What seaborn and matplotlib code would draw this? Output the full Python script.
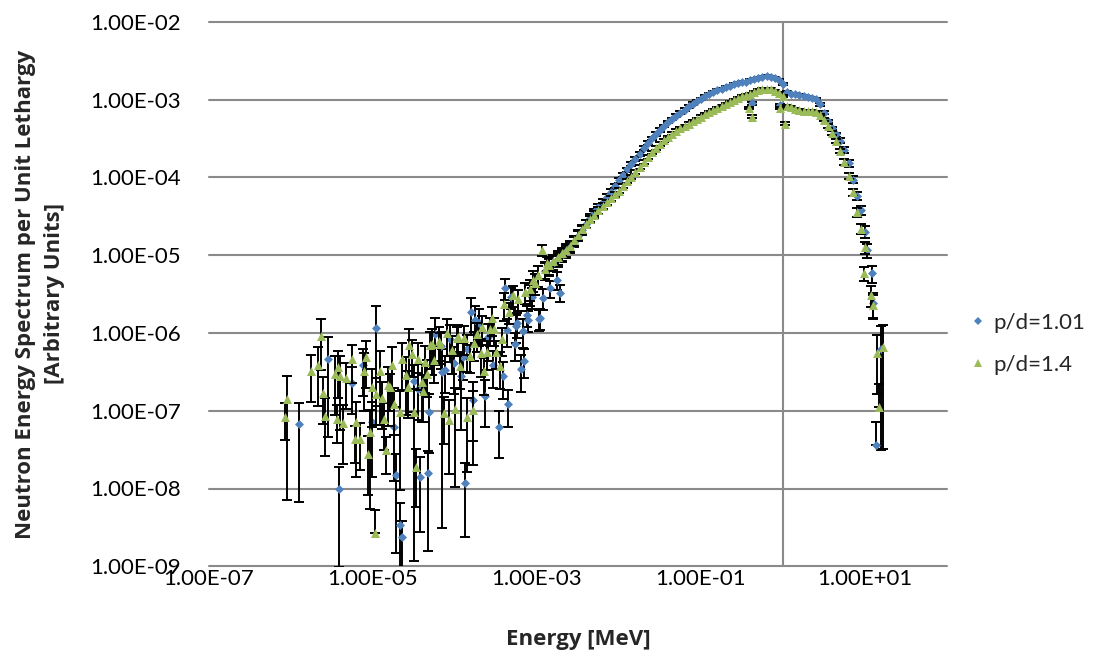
import numpy as np
import pandas as pd
import matplotlib
matplotlib.use("Agg")
import matplotlib.pyplot as plt
import seaborn as sns
from matplotlib.ticker import FuncFormatter, NullLocator
from matplotlib.lines import Line2D

# ---------------------------------------------------------------------------
# Neutron spectrum per unit lethargy for two pitch-to-diameter ratios.
# Values are tally results (arbitrary units) with relative 1-sigma errors.
# ---------------------------------------------------------------------------

series_names = ["p/d=1.01", "p/d=1.4"]

# Low-energy (thermal / epithermal) tallies, p/d = 1.01
energy_low_101 = [1.25e-6, 2.85e-6, 3.8e-6, 5.6e-6, 7.5e-6, 9.7e-6, 1.1e-5, 1.8e-5,
                  1.89e-5, 2.15e-5, 2.26e-5, 3.13e-5, 3.5e-5, 3.7e-5, 4.65e-5, 4.86e-5,
                  5.7e-5, 6.8e-5, 7.0e-5, 7.55e-5, 8.8e-5, 9.6e-5, 1.17e-4, 1.24e-4,
                  1.34e-4, 1.4e-4, 1.57e-4, 1.64e-4, 1.77e-4, 1.94e-4, 2.32e-4, 2.55e-4,
                  2.93e-4, 3.4e-4, 3.9e-4, 4.07e-4, 4.26e-4, 4.47e-4, 4.77e-4, 5.4e-4,
                  5.55e-4, 5.65e-4, 6.3e-4, 6.7e-4, 7.0e-4, 7.6e-4, 7.8e-4, 8.2e-4,
                  8.6e-4, 1.07e-3, 1.09e-3, 1.19e-3, 1.44e-3, 1.74e-3, 1.9e-3]
flux_low_101 = [6.7e-8, 4.6e-7, 9.8e-9, 2.3e-7, 3.9e-7, 7.1e-8, 1.15e-6, 6.2e-8,
                1.48e-8, 3.4e-9, 2.4e-9, 2.4e-7, 1.88e-7, 1.4e-8, 1.58e-8, 9.6e-8,
                9.6e-7, 6.8e-7, 3.1e-7, 3.34e-7, 8.4e-7, 4.06e-7, 2.8e-7, 4.95e-7,
                1.19e-8, 6.3e-7, 1.88e-6, 1.37e-7, 1.47e-6, 1.36e-6, 1.56e-7, 8.8e-7,
                3.87e-7, 6.2e-8, 2.8e-7, 3.74e-6, 1.09e-6, 1.22e-7, 2.87e-6, 7.2e-7,
                1.23e-6, 1.33e-6, 3.44e-7, 1.07e-6, 4.4e-7, 1.7e-6, 1.47e-6, 3.2e-6,
                2.9e-6, 1.5e-6, 1.54e-6, 2.8e-6, 3.74e-6, 4.8e-6, 3.3e-6]
relerr_low_101 = [0.9, 0.9, 0.9, 0.6, 0.6, 0.8, 0.9, 0.8,
                  0.9, 0.9, 0.6, 0.6, 0.6, 0.8, 0.9, 0.7,
                  0.6, 0.5, 0.99, 0.5, 0.5, 0.6, 0.8, 0.5,
                  0.8, 0.5, 0.5, 0.7, 0.5, 0.5, 0.6, 0.5,
                  0.5, 0.6, 0.5, 0.3, 0.4, 0.5, 0.3, 0.4,
                  0.4, 0.35, 0.5, 0.4, 0.4, 0.3, 0.3, 0.3,
                  0.3, 0.3, 0.3, 0.3, 0.25, 0.25, 0.25]

# Low-energy (thermal / epithermal) tallies, p/d = 1.4
energy_low_14 = [8.45e-7, 8.85e-7, 1.75e-6, 2.15e-6, 2.32e-6, 2.43e-6, 2.6e-6, 3.44e-6,
                 3.78e-6, 3.6e-6, 4.27e-6, 3.96e-6, 4.69e-6, 5.6e-6, 6.03e-6, 6.26e-6,
                 7.0e-6, 8.2e-6, 7.8e-6, 8.8e-6, 9.2e-6, 9.8e-6, 1.05e-5, 1.08e-5,
                 1.23e-5, 1.3e-5, 1.36e-5, 1.43e-5, 1.52e-5, 1.61e-5, 1.7e-5, 1.8e-5,
                 2.13e-5, 2.26e-5, 2.5e-5, 2.65e-5, 2.77e-5, 2.96e-5, 3.16e-5, 3.3e-5,
                 3.5e-5, 3.92e-5, 4.1e-5, 4.35e-5, 4.6e-5, 4.95e-5, 5.2e-5, 5.5e-5,
                 6.4e-5, 6.6e-5, 7.4e-5, 8.05e-5, 8.45e-5, 9.1e-5, 1.0e-4, 1.05e-4,
                 1.1e-4, 1.15e-4, 1.29e-4, 1.39e-4, 1.52e-4, 1.64e-4, 1.72e-4, 1.84e-4,
                 2.06e-4, 2.15e-4, 2.28e-4, 2.45e-4, 2.67e-4, 2.85e-4, 3.0e-4, 3.16e-4,
                 3.5e-4, 3.7e-4, 4.0e-4, 4.6e-4, 5.05e-4, 5.9e-4, 7.1e-4, 8.2e-4,
                 9.0e-4, 9.5e-4, 1.04e-3, 1.14e-3, 1.31e-3]
flux_low_14 = [8.4e-8, 1.42e-7, 3.27e-7, 3.87e-7, 9.14e-7, 1.71e-7, 8.65e-8, 2.97e-7,
               3.68e-7, 7.8e-8, 6.9e-8, 2.8e-7, 2.6e-7, 4.6e-7, 4.3e-8, 7.1e-8,
               4.3e-8, 4.85e-7, 3.27e-7, 2.75e-8, 5.4e-8, 2.04e-7, 2.65e-9, 1.64e-7,
               3.27e-7, 1.47e-7, 7.8e-8, 3.1e-8, 2.14e-7, 2.0e-7, 3.9e-7, 1.22e-7,
               9.5e-8, 4.6e-7, 2.9e-7, 2.0e-7, 7.0e-7, 5.4e-7, 9.7e-8, 1.9e-8,
               4.6e-7, 2.37e-7, 1.8e-7, 4.2e-7, 2.97e-7, 6.9e-7, 7.1e-7, 4.5e-7,
               7.9e-7, 7.2e-7, 9.3e-8, 1.0e-6, 7.6e-8, 6.0e-7, 1.04e-7, 8.5e-7,
               8.95e-7, 3.76e-7, 8.7e-7, 8.2e-8, 5.05e-7, 1.01e-7, 7.35e-7, 9.6e-7,
               5.5e-7, 1.18e-6, 3.2e-7, 5.6e-7, 1.12e-6, 1.54e-6, 1.12e-6, 5.7e-7,
               3.76e-7, 8.3e-7, 2.36e-6, 1.88e-6, 3.1e-6, 2.7e-6, 3.4e-6, 3.7e-6,
               4.8e-6, 4.35e-6, 5.6e-6, 1.16e-5, 7.85e-6]
relerr_low_14 = [0.5, 0.95, 0.6, 0.7, 0.64, 0.6, 0.7, 0.7,
                 0.6, 0.5, 0.7, 0.8, 0.6, 0.5, 0.5, 0.8,
                 0.6, 0.6, 0.7, 0.7, 0.9, 0.7, 1.0, 0.6,
                 0.8, 0.6, 0.6, 0.5, 0.7, 0.5, 0.7, 0.6,
                 0.9, 0.6, 0.7, 0.6, 0.6, 0.5, 0.988, 0.7,
                 0.6, 0.7, 0.6, 0.6, 0.5, 0.5, 0.6, 0.5,
                 0.5, 0.4, 0.6, 0.5, 0.8, 0.5, 0.9, 0.4,
                 0.4, 0.5, 0.4, 0.8, 0.4, 0.8, 0.4, 0.4,
                 0.5, 0.4, 0.5, 0.4, 0.4, 0.4, 0.4, 0.4,
                 0.5, 0.4, 0.4, 0.3, 0.3, 0.3, 0.3, 0.3,
                 0.3, 0.3, 0.3, 0.15, 0.2]

# Fast-range tallies on a common energy grid (MeV)
energy_fast = [1.26e-3, 1.41e-3, 1.58e-3, 1.78e-3, 2.00e-3, 2.24e-3, 2.51e-3, 2.82e-3,
               3.16e-3, 3.55e-3, 3.98e-3, 4.47e-3, 5.01e-3, 5.62e-3, 6.31e-3, 7.08e-3,
               7.94e-3, 8.91e-3, 1.00e-2,
               1.12e-2, 1.26e-2, 1.41e-2, 1.58e-2, 1.78e-2, 2.00e-2, 2.24e-2, 2.51e-2,
               2.82e-2, 3.16e-2, 3.55e-2, 3.98e-2, 4.47e-2, 5.01e-2, 5.62e-2, 6.31e-2,
               7.08e-2, 7.94e-2, 8.91e-2, 1.00e-1,
               0.112, 0.126, 0.141, 0.158, 0.178, 0.200, 0.224, 0.251,
               0.282, 0.316, 0.355, 0.398, 0.447, 0.501, 0.562, 0.631,
               0.708, 0.794, 0.891, 1.00,
               1.12, 1.26, 1.41, 1.58, 1.78, 2.00, 2.24, 2.51,
               2.82, 3.16, 3.55, 3.98, 4.47, 5.01, 5.62, 6.31,
               7.08, 7.94, 8.91, 10.0]
flux_fast_101 = [6.31e-6, 7.08e-6, 7.94e-6, 8.91e-6, 1.0e-5, 1.12e-5, 1.26e-5, 1.48e-5,
                 1.78e-5, 2.09e-5, 2.51e-5, 3.02e-5, 3.55e-5, 4.17e-5, 4.79e-5, 5.62e-5,
                 6.46e-5, 7.76e-5, 9.12e-5,
                 1.07e-4, 1.26e-4, 1.48e-4, 1.70e-4, 2.0e-4, 2.37e-4, 2.75e-4, 3.16e-4,
                 3.59e-4, 4.07e-4, 4.57e-4, 5.13e-4, 5.62e-4, 6.17e-4, 6.76e-4, 7.41e-4,
                 8.13e-4, 8.81e-4, 9.55e-4, 1.02e-3,
                 1.10e-3, 1.17e-3, 1.24e-3, 1.32e-3, 1.38e-3, 1.45e-3, 1.51e-3, 1.58e-3,
                 1.62e-3, 1.66e-3, 1.70e-3, 1.76e-3, 1.84e-3, 1.91e-3, 1.96e-3, 1.98e-3,
                 1.95e-3, 1.89e-3, 1.79e-3, 1.58e-3,
                 1.26e-3, 1.19e-3, 1.16e-3, 1.14e-3, 1.11e-3, 1.07e-3, 1.06e-3, 1.02e-3,
                 8.71e-4, 6.76e-4, 5.25e-4, 4.27e-4, 3.55e-4, 2.95e-4, 2.24e-4, 1.51e-4,
                 9.33e-5, 5.75e-5, 3.80e-5, 2.0e-5]
flux_fast_14 = [6.61e-6, 7.41e-6, 8.32e-6, 9.33e-6, 1.05e-5, 1.17e-5, 1.32e-5, 1.55e-5,
                1.82e-5, 2.14e-5, 2.51e-5, 2.88e-5, 3.31e-5, 3.76e-5, 4.27e-5, 4.79e-5,
                5.37e-5, 6.03e-5, 6.76e-5,
                7.76e-5, 8.91e-5, 1.02e-4, 1.17e-4, 1.36e-4, 1.58e-4, 1.82e-4, 2.09e-4,
                2.37e-4, 2.69e-4, 2.99e-4, 3.31e-4, 3.63e-4, 3.98e-4, 4.27e-4, 4.57e-4,
                4.90e-4, 5.25e-4, 5.62e-4, 6.03e-4,
                6.46e-4, 6.92e-4, 7.33e-4, 7.76e-4, 8.22e-4, 8.71e-4, 9.33e-4, 1.0e-3,
                1.05e-3, 1.10e-3, 1.14e-3, 1.17e-3, 1.24e-3, 1.32e-3, 1.36e-3, 1.38e-3,
                1.35e-3, 1.30e-3, 1.23e-3, 1.10e-3,
                8.32e-4, 7.94e-4, 7.59e-4, 7.33e-4, 7.16e-4, 7.08e-4, 7.08e-4, 6.92e-4,
                6.31e-4, 5.50e-4, 4.57e-4, 3.72e-4, 2.95e-4, 2.19e-4, 1.58e-4, 1.05e-4,
                6.46e-5, 3.55e-5, 2.19e-5, 1.26e-5]
relerr_fast = [0.25, 0.24, 0.22, 0.2, 0.19, 0.18, 0.16, 0.15, 0.14,
               0.13, 0.12, 0.11, 0.1, 0.09, 0.09, 0.08, 0.08, 0.07, 0.07,
               0.06, 0.06, 0.06, 0.06, 0.06, 0.05, 0.05, 0.05, 0.05, 0.05,
               0.04, 0.04, 0.04, 0.04, 0.04, 0.04, 0.04, 0.04, 0.04, 0.04,
               0.03, 0.03, 0.03, 0.03, 0.03, 0.03, 0.03, 0.03, 0.03, 0.03,
               0.03, 0.03, 0.03, 0.03, 0.03, 0.03, 0.03, 0.03, 0.03, 0.03,
               0.03, 0.03, 0.03, 0.03, 0.03, 0.03, 0.03, 0.03,
               0.04, 0.04, 0.05, 0.05, 0.06, 0.07, 0.08, 0.09, 0.1, 0.12, 0.14, 0.18]

# Resonance dips and high-energy tail
energy_extra_101 = [0.417, 0.92, 10.5, 12.1, 12.6, 13.6, 15.5]
flux_extra_101 = [8.9e-4, 8.5e-4, 1.16e-5, 5.83e-6, 2.4e-6, 3.6e-8, 6.2e-7]
relerr_extra_101 = [0.04, 0.04, 0.2, 0.25, 0.35, 1.0, 0.95]

energy_extra_14 = [0.38, 0.415, 0.92, 1.06, 9.8, 11.7, 12.6, 13.9, 16.7, 14.8]
flux_extra_14 = [7.8e-4, 6.0e-4, 7.8e-4, 4.9e-4, 5.83e-6, 3.07e-6, 2.29e-6, 5.47e-7, 6.5e-7, 1.11e-7]
relerr_extra_14 = [0.04, 0.05, 0.04, 0.05, 0.2, 0.3, 0.35, 0.7, 0.95, 1.0]

xtick_values = [1e-7, 1e-5, 1e-3, 1e-1, 1e1]
ytick_values = [1e-9, 1e-8, 1e-7, 1e-6, 1e-5, 1e-4, 1e-3, 1e-2]

# ---------------------------------------------------------------------------
frames = []
for name, e_parts, f_parts, r_parts in [
    (series_names[0],
     [energy_low_101, energy_fast, energy_extra_101],
     [flux_low_101, flux_fast_101, flux_extra_101],
     [relerr_low_101, relerr_fast, relerr_extra_101]),
    (series_names[1],
     [energy_low_14, energy_fast, energy_extra_14],
     [flux_low_14, flux_fast_14, flux_extra_14],
     [relerr_low_14, relerr_fast, relerr_extra_14]),
]:
    frames.append(pd.DataFrame({
        "series": name,
        "energy": np.concatenate([np.asarray(p, float) for p in e_parts]),
        "flux": np.concatenate([np.asarray(p, float) for p in f_parts]),
        "relerr": np.concatenate([np.asarray(p, float) for p in r_parts]),
    }))
df = pd.concat(frames, ignore_index=True)

sns.set_theme(style="white")
plt.rcParams["font.family"] = ["Lato", "DejaVu Sans"]
TITLE_FONT = ["Open Sans", "Noto Sans", "DejaVu Sans"]

BLUE = "#4F81BD"
GREEN = "#9BBB59"
GRID = "#8A8A8A"
FS = 16.0
TFS = 16.0

fig = plt.figure(figsize=(10.97, 6.56), dpi=100)
ax = fig.add_axes([209 / 1097, 1 - 566.3 / 656, 738 / 1097, 544.6 / 656])
ax.set_xscale("log")
ax.set_yscale("log")
ax.set_xlim(1e-7, 1e2)
ax.set_ylim(1e-9, 1e-2)

styles = {
    series_names[0]: dict(color=BLUE, marker="D", s=21),
    series_names[1]: dict(color=GREEN, marker="^", s=42),
}

z = 3
for name in series_names:
    sub = df[df["series"] == name]
    upper = sub["flux"] * sub["relerr"]
    lower = np.where(sub["relerr"] < 1, sub["flux"] * sub["relerr"], 0.0)
    ax.errorbar(sub["energy"], sub["flux"], yerr=[lower, upper], fmt="none",
                ecolor="black", elinewidth=1.4, capsize=3.8, capthick=1.4,
                zorder=z)
    st = styles[name]
    sns.scatterplot(data=sub, x="energy", y="flux", ax=ax, color=st["color"],
                    marker=st["marker"], s=st["s"], linewidth=0,
                    legend=False, zorder=z + 1)
    z += 2

# axes styling
for sp in ax.spines.values():
    sp.set_visible(False)
ax.set_xticks(xtick_values)
ax.set_yticks(ytick_values)
ax.xaxis.set_minor_locator(NullLocator())
ax.yaxis.set_minor_locator(NullLocator())
sci = FuncFormatter(lambda v, _: f"{v:.2E}")
ax.xaxis.set_major_formatter(sci)
ax.yaxis.set_major_formatter(sci)
ax.tick_params(axis="y", length=0, pad=20, labelsize=FS, colors="black")
ax.tick_params(axis="x", length=0, pad=2, labelsize=FS, colors="black")

ax.grid(False)
ax.yaxis.grid(True, color=GRID, linewidth=1.5)
ax.set_axisbelow(True)
for gl in ax.get_ygridlines():
    gl.set_clip_on(False)
ax.axvline(1.0, color=GRID, linewidth=1.5, zorder=1)

ax.set_xlabel("Energy [MeV]", fontsize=TFS, fontweight="bold", family=TITLE_FONT,
              va="center")
ax.xaxis.set_label_coords(0.5, (566.3 - 640) / 544.6)
ax.set_ylabel("Neutron Energy Spectrum per Unit Lethargy\n[Arbitrary Units]",
              fontsize=TFS, fontweight="bold", family=TITLE_FONT, va="center",
              linespacing=1.5)
ax.yaxis.set_label_coords((40 - 209) / 738, 0.5)

handles = [
    Line2D([], [], linestyle="none", marker="D", color=BLUE, markersize=3.8, markeredgewidth=0),
    Line2D([], [], linestyle="none", marker="^", color=GREEN, markersize=5.4, markeredgewidth=0),
]
fig.legend(handles, series_names, loc="center left",
           bbox_to_anchor=(967 / 1097, 1 - 344 / 656), bbox_transform=fig.transFigure,
           frameon=False, fontsize=FS, handlelength=1.0, handletextpad=0.2,
           borderpad=0, borderaxespad=0, labelspacing=1.0)

fig.savefig("out.png", dpi=100, facecolor="white")
